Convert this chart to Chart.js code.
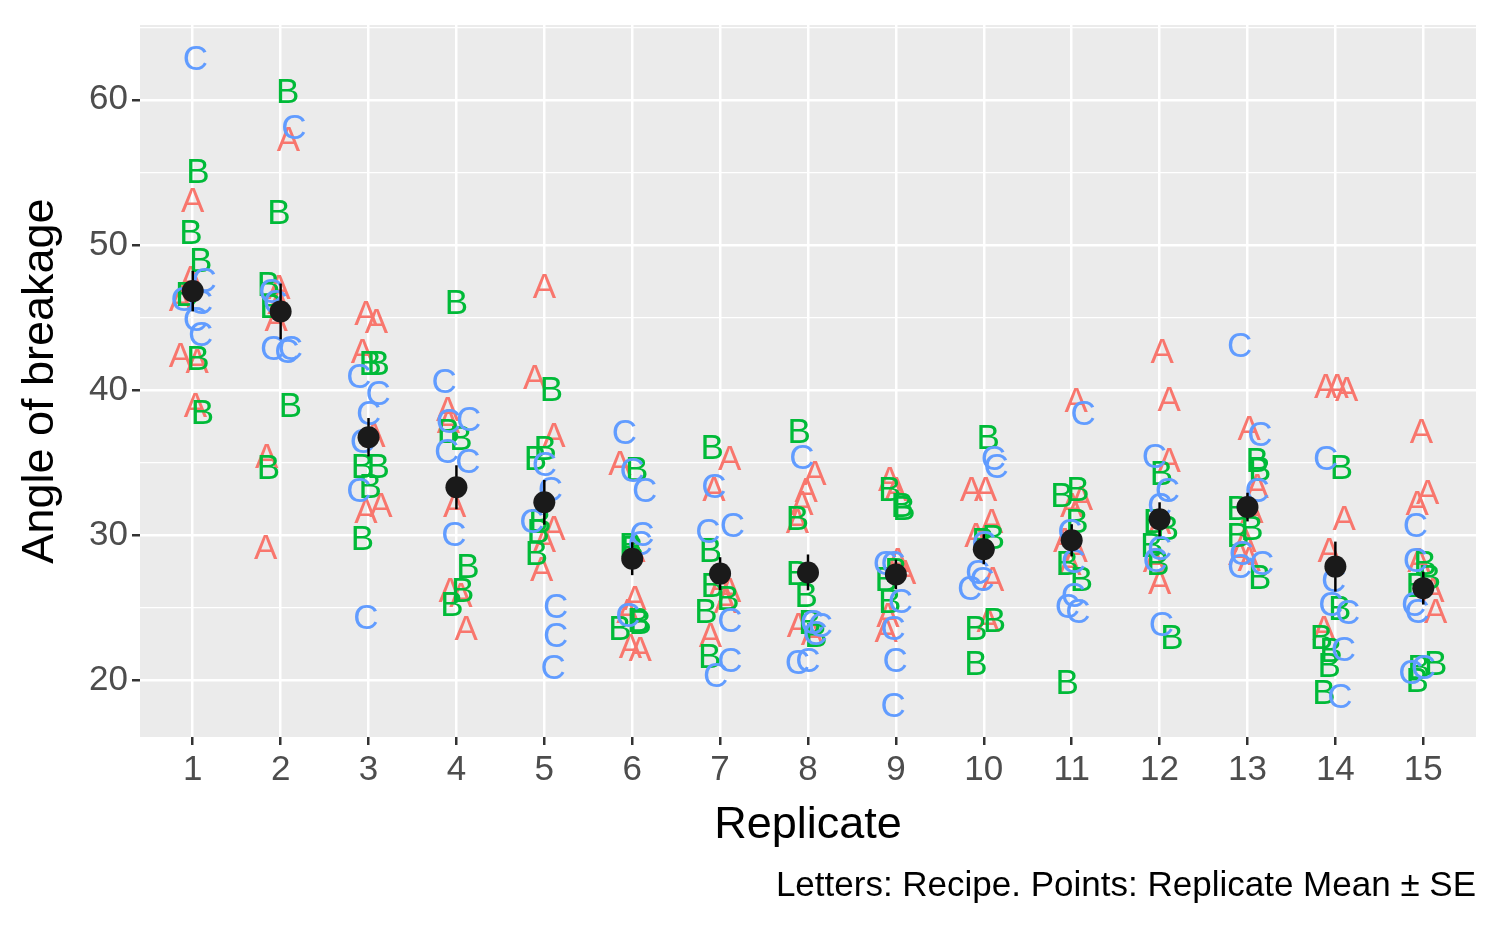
<!DOCTYPE html>
<html><head><meta charset="utf-8">
<script src="https://cdn.jsdelivr.net/npm/chart.js@4"></script>
<style>html,body{margin:0;padding:0;background:#fff}#wrap{width:1500px;height:927px}</style>
</head><body><div id="wrap"><canvas id="c"></canvas></div>
<script>
const replicates = [1,2,3,4,5,6,7,8,9,10,11,12,13,14,15];
const recipes = ["A","B","C"];
const colors = {A:"#F8766D",B:"#00BA38",C:"#619CFF"};
// angle of breakage, 6 per replicate (by recipe)
const angleA = [
 [46.2,47.6,42.3,53,41.9,38.9],[57.2,47,44.8,35.4,29.1,46],[45.2,44.7,42.6,36.8,31.6,32],
 [38.6,32,26.1,25.8,23.5,37.8],[47.1,40.8,36.8,30.4,29.6,27.6],[34.9,25.6,22.3,22.1,24.7,28.9],
 [35.2,33.1,26.5,26.1,23,25.4],[34.2,33,32.1,30.9,23.7,23.2],[33.8,28.2,27.4,24.4,23.4,33.1],
 [33.1,33.1,30.9,29.9,26.9,24.1],[39.2,32.5,32,29.6,28.9,28],[42.6,39.3,35.1,30.8,28.2,26.7],
 [37.3,33.3,31.6,29.6,28.7,28.3],[40.2,40.2,40,31.1,28.9,23.5],[37.1,32.9,32.1,26.1,24.7,28.2]];
const angleB = [
 [55,50.8,48.9,42.1,38.4,46.5],[60.5,52.2,47.2,45.7,38.9,34.6],[41.8,41.8,34.7,34.7,33.3,29.7],
 [46,37.1,36.6,27.8,26.1,25.2],[40,35.9,35.2,30.9,30.2,28.7],[34.5,29,24.1,23.5,29.2,23.9],
 [36,28.9,26.5,25.6,24.7,21.6],[37.1,31.1,27.3,25.8,23.9,23],[33.1,32,31.8,26.9,25.4,27.5],
 [36.7,29.8,29.6,23.5,24.1,21.1],[32.7,33.1,30.9,28,26.9,19.8],[34.2,30.4,29.2,28,22.9,30.9],
 [31.8,35.1,34.5,30.4,29.9,27],[34.6,24.9,22.9,22,21,19.1],[28,27,26.5,21.1,20.8,19.9]];
const angleC = [
 [62.8,46.2,47.5,44.8,43.8,46],[58,42.8,42.8,42.6,46.7,46],[40.9,39.7,38.3,36.4,33,24.3],
 [40.5,37.8,37.9,35.7,35,30],[34.8,33.1,30.9,25,23,20.8],[37,33,30,29.4,24.4,34.4],
 [33.3,30.6,30.2,24.1,21.3,20.3],[35.3,23.9,23.7,23.2,21.2,21.3],[28,28,25.4,23.5,21.3,18.2],
 [35.2,34.7,27.4,26.9,26.3,29.4],[38.3,28.1,25.8,25,24.7,30.2],[35.4,33,32,28.2,29,23.8],
 [43,36.9,33,28,27.8,28.7],[35.2,26.8,25.2,24.6,22.1,18.8],[30.6,28.2,25.2,24.7,20.8,20.5]];
// horizontal jitter offsets (in replicate units)
const jitterA = [
 [-.14,-.02,-.14,0,.05,.03],[.09,-.02,-.05,-.16,-.17,-.02],[-.03,.09,-.07,.06,-.03,.14],
 [-.1,-.02,-.07,.05,.11,-.09],[0,-.11,.11,.11,0,-.03],[-.14,.03,-.02,.09,-.05,.02],
 [.11,-.07,0,.11,-.11,.06],[.08,-.02,-.07,-.12,-.11,.05],[-.07,.02,.1,-.09,-.11,0],
 [-.14,.02,.09,-.09,.1,.05],[.05,.11,0,-.08,.05,-.02],[.03,.11,.11,0,-.06,0],
 [.02,.11,.05,-.03,-.09,.02],[-.11,.02,.13,.1,-.07,-.13],[-.02,.05,-.07,.11,.14,-.05]];
const jitterB = [
 [.06,-.02,.09,.06,.11,-.07],[.08,-.02,-.14,-.11,.11,-.14],[.02,.11,-.07,.11,.02,-.07],
 [0,-.09,.05,.13,.07,-.05],[.08,.01,-.1,-.05,-.07,-.09],[.05,0,.07,-.14,-.02,.09],
 [-.09,-.11,-.09,.09,-.16,-.12],[-.1,-.12,-.12,-.02,.02,.09],[-.07,.07,.09,-.11,-.07,0],
 [.05,.11,-.01,-.09,.12,-.09],[-.11,.07,.06,-.05,.11,-.05],[.02,.09,-.09,-.02,.14,-.06],
 [-.11,.11,.14,.05,-.11,.14],[.07,.05,-.16,-.05,-.07,-.13],[.02,.07,-.07,.14,-.05,-.07]];
const jitterC = [
 [.03,-.11,.13,.03,.09,.09],[.15,-.09,.11,.07,-.11,-.06],[-.11,.11,0,-.07,-.11,-.03],
 [-.14,-.09,.14,-.11,.13,-.03],[0,.07,-.14,.13,.13,.1],[-.09,.14,.11,.09,-.05,0],
 [-.07,.14,-.14,.11,.11,-.05],[-.07,.05,.14,.08,-.12,0],[-.12,-.03,.05,-.03,-.01,-.03],
 [.11,.14,-.07,-.02,-.16,0],[.13,.02,.02,-.05,.07,-.02],[-.06,.09,0,-.05,0,.02],
 [-.09,.14,.11,.16,-.09,-.07],[-.11,-.02,-.05,.14,.09,.05],[-.09,-.09,-.11,-.07,0,-.14]];
const captionText = "Letters: Recipe. Points: Replicate Mean \u00b1 SE";

const angles = {A:angleA,B:angleB,C:angleC};
const jitters = {A:jitterA,B:jitterB,C:jitterC};
function pts(r){const out=[];replicates.forEach((rep,i)=>angles[r][i].forEach((v,j)=>out.push({x:rep+jitters[r][i][j],y:v})));return out;}
const meanPts=[], seVals=[];
replicates.forEach((rep,i)=>{const all=[...angleA[i],...angleB[i],...angleC[i]];
 const m=all.reduce((a,b)=>a+b,0)/all.length;
 const sd=Math.sqrt(all.reduce((a,b)=>a+(b-m)*(b-m),0)/(all.length-1));
 meanPts.push({x:rep,y:m}); seVals.push(sd/Math.sqrt(all.length));});

const FONT="'Liberation Sans', Arial, sans-serif";
const letterPlugin={id:'letters',
 beforeDraw(chart){const {ctx,chartArea:a}=chart;ctx.save();ctx.fillStyle='#EBEBEB';ctx.fillRect(a.left,a.top,a.right-a.left,a.bottom-a.top);ctx.restore();},
 afterDatasetsDraw(chart){const ctx=chart.ctx;ctx.save();
  ctx.font='35px '+FONT;ctx.textAlign='center';ctx.textBaseline='middle';
  chart.data.datasets.forEach((ds,di)=>{if(!ds.letter)return;ctx.fillStyle=colors[ds.letter];
   chart.getDatasetMeta(di).data.forEach(el=>ctx.fillText(ds.letter,el.x,el.y+1));});
  const ys=chart.scales.y, xs=chart.scales.x;ctx.strokeStyle='#000';ctx.lineWidth=2.5;
  meanPts.forEach((p,i)=>{const x=xs.getPixelForValue(p.x);ctx.beginPath();
   ctx.moveTo(x,ys.getPixelForValue(p.y-seVals[i]));ctx.lineTo(x,ys.getPixelForValue(p.y+seVals[i]));ctx.stroke();});
  const meta=chart.getDatasetMeta(3);ctx.fillStyle='#1A1A1A';
  meta.data.forEach(el=>{ctx.beginPath();ctx.arc(el.x,el.y,11,0,Math.PI*2);ctx.fill();});
  ctx.restore();}};

new Chart(document.getElementById('c'),{type:'scatter',
 data:{datasets:[
  ...recipes.map(r=>({letter:r,data:pts(r),pointRadius:0,pointHoverRadius:0})),
  {data:meanPts,pointRadius:0,pointHoverRadius:0}]},
 options:{responsive:true,maintainAspectRatio:false,animation:false,devicePixelRatio:1,
  layout:{padding:{top:22,right:24,left:0,bottom:0}},
  plugins:{legend:{display:false},tooltip:{enabled:false},
   subtitle:{display:true,text:captionText,position:'bottom',align:'end',color:'#000',font:{family:FONT,size:35},padding:{top:0,bottom:20}}},
  scales:{
   x:{type:'linear',min:0.4,max:15.6,
    afterBuildTicks(s){s.ticks=replicates.map(v=>({value:v}));},
    afterFit(s){s.height=128;},
    grid:{color:'#fff',lineWidth:2.5,tickColor:'#333',tickLength:8},border:{display:false},
    ticks:{color:'#4D4D4D',font:{family:FONT,size:35},padding:4,maxRotation:0,autoSkip:false},
    title:{display:true,text:'Replicate',color:'#000',font:{family:FONT,size:45},padding:{top:0,bottom:12}}},
   y:{min:16.1,max:65.15,
    afterBuildTicks(s){s.ticks=[20,25,30,35,40,45,50,55,60,65].map(v=>({value:v}));},
    afterFit(s){s.width=140;},
    grid:{color:'#fff',lineWidth:c=>c.tick&&c.tick.value%10===0?2.5:1.2,
     tickColor:c=>c.tick&&c.tick.value%10===0?'#333':'rgba(0,0,0,0)',tickLength:8},border:{display:false},
    ticks:{color:'#4D4D4D',font:{family:FONT,size:35},padding:4,callback:v=>v%10===0?v:''},
    title:{display:true,text:'Angle of breakage',color:'#000',font:{family:FONT,size:45},padding:{top:14,bottom:0}}}}},
 plugins:[letterPlugin]});
</script></body></html>
